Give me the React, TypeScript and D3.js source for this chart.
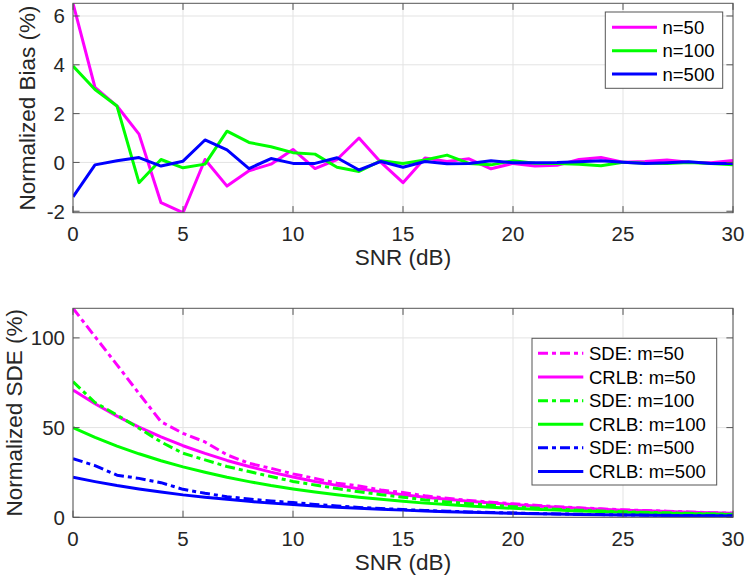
import React from 'react';
import * as d3 from 'd3';

// SNR grid (dB)
const snr = [0, 1, 2, 3, 4, 5, 6, 7, 8, 9, 10, 11, 12, 13, 14, 15, 16, 17, 18, 19, 20, 21, 22, 23, 24, 25, 26, 27, 28, 29, 30];
const xTicks = [0, 5, 10, 15, 20, 25, 30];

// top panel: normalized bias (%)
const bias50 = [6.52, 3.07, 2.31, 1.16, -1.65, -2.06, 0.12, -0.97, -0.34, -0.07, 0.53, -0.25, 0.12, 1.0, 0.0, -0.83, 0.18, 0.04, 0.15, -0.26, -0.04, -0.15, -0.12, 0.12, 0.2, 0.01, 0.04, 0.1, 0.01, -0.01, 0.08];
const bias100 = [3.95, 2.99, 2.31, -0.83, 0.12, -0.22, -0.07, 1.28, 0.82, 0.64, 0.4, 0.34, -0.2, -0.37, 0.07, -0.04, 0.1, 0.3, -0.04, -0.1, 0.07, -0.03, -0.04, -0.07, -0.14, 0.01, -0.03, -0.04, 0, -0.04, -0.1];
const bias500 = [-1.41, -0.1, 0.07, 0.2, -0.15, 0.05, 0.92, 0.51, -0.25, 0.16, -0.04, -0.04, 0.19, -0.31, 0.04, -0.2, 0.04, -0.05, -0.04, 0.07, -0.01, -0.01, 0, 0.03, 0.07, 0.01, -0.04, -0.01, 0.03, -0.04, -0.04];
const biasTicks = [-2, 0, 2, 4, 6];

// bottom panel: normalized SDE (%) and CRLB
const sde50 = [116.5, 100.7, 85, 69, 53.3, 46.8, 42, 34.8, 30.1, 27.3, 24.2, 21.7, 19, 17.5, 15.2, 13.8, 12.0, 10.6, 9.4, 8.4, 7.5, 6.7, 5.9, 5.3, 4.7, 4.2, 3.8, 3.4, 3.0, 2.6, 2.3];
const crlb50 = [71, 63.3, 56.4, 50.3, 44.8, 39.9, 35.6, 31.7, 28.3, 25.2, 22.5, 20.0, 17.8, 15.9, 14.2, 12.6, 11.2, 10.0, 8.9, 8.0, 7.1, 6.3, 5.6, 5.0, 4.5, 4.0, 3.6, 3.2, 2.8, 2.5, 2.2];
const sde100 = [75.6, 64, 57, 49.6, 42, 35.7, 32, 28.3, 25.5, 22.7, 20, 18, 16, 14.2, 12.6, 11.2, 9.7, 8.6, 7.6, 6.7, 5.9, 5.2, 4.5, 4.0, 3.5, 3.1, 2.8, 2.5, 2.2, 1.9, 1.7];
const crlb100 = [50, 44.6, 39.7, 35.4, 31.5, 28.1, 25.1, 22.3, 19.9, 17.7, 15.8, 14.1, 12.6, 11.2, 10.0, 8.9, 7.9, 7.1, 6.3, 5.6, 5.0, 4.5, 4.0, 3.5, 3.2, 2.8, 2.5, 2.2, 2.0, 1.8, 1.6];
const sde500 = [32.7, 28.8, 23.5, 21.7, 19.3, 15.6, 13.4, 11.5, 10.2, 9.1, 8.2, 7.2, 6.3, 5.5, 4.9, 4.3, 3.8, 3.4, 3.0, 2.7, 2.4, 2.1, 1.9, 1.7, 1.5, 1.3, 1.2, 1.1, 1.0, 0.9, 0.8];
const crlb500 = [22.3, 19.9, 17.7, 15.8, 14.1, 12.5, 11.2, 10.0, 8.9, 7.9, 7.1, 6.3, 5.6, 5.0, 4.5, 4.0, 3.5, 3.1, 2.8, 2.5, 2.2, 2.0, 1.8, 1.6, 1.4, 1.3, 1.1, 1.0, 0.9, 0.8, 0.7];
const sdeTicks = [0, 50, 100];

const MAG = '#ff00ff';
const GRN = '#00ff00';
const BLU = '#0000ff';
const DASHDOT = '10,4,4,4';

const topSeries = [
    { label: 'n=50', values: bias50, color: MAG, dash: null },
    { label: 'n=100', values: bias100, color: GRN, dash: null },
    { label: 'n=500', values: bias500, color: BLU, dash: null },
];

const bottomSeries = [
    { label: 'SDE: m=50', values: sde50, color: MAG, dash: DASHDOT },
    { label: 'CRLB: m=50', values: crlb50, color: MAG, dash: null },
    { label: 'SDE: m=100', values: sde100, color: GRN, dash: DASHDOT },
    { label: 'CRLB: m=100', values: crlb100, color: GRN, dash: null },
    { label: 'SDE: m=500', values: sde500, color: BLU, dash: DASHDOT },
    { label: 'CRLB: m=500', values: crlb500, color: BLU, dash: null },
];

const FONT = '"Liberation Sans", Arial, Helvetica, sans-serif';
const W = 747;
const H = 580;
const left = 73;
const right = 733;
const axisColor = '#555555';
const textColor = '#262626';

interface Series {
    label: string;
    values: number[];
    color: string;
    dash: string | null;
}

interface PanelProps {
    id: string;
    top: number;
    bottom: number;
    domain: [number, number];
    yTicks: number[];
    yLabel: string;
    yLabelX: number;
    series: Series[];
    legend: { x0: number; x1: number; y0: number; y1: number; rowY: number[]; lineX0: number; lineX1: number; textX: number };
}

const Panel: React.FC<PanelProps> = ({ id, top, bottom, domain, yTicks, yLabel, yLabelX, series, legend }) => {
    const x = d3.scaleLinear().domain([0, 30]).range([left, right]);
    const y = d3.scaleLinear().domain(domain).range([bottom, top]);
    const line = d3.line<number>()
        .x((_, i) => x(snr[i]))
        .y(d => y(d));
    const tickLen = 6.6;

    return (
        <g>
            <defs>
                <clipPath id={id}>
                    <rect x={left} y={top} width={right - left} height={bottom - top} />
                </clipPath>
            </defs>
            <rect x={left} y={top} width={right - left} height={bottom - top} fill="#fff" />
            {/* grid */}
            {xTicks.map(t => (
                <line key={'gx' + t} x1={x(t)} x2={x(t)} y1={top} y2={bottom} stroke="#e3e3e3" strokeWidth={1} />
            ))}
            {yTicks.map(t => (
                <line key={'gy' + t} x1={left} x2={right} y1={y(t)} y2={y(t)} stroke="#e3e3e3" strokeWidth={1} />
            ))}
            {/* data */}
            <g clipPath={`url(#${id})`}>
                {series.map(s => (
                    <path
                        key={s.label}
                        d={line(s.values) || ''}
                        fill="none"
                        stroke={s.color}
                        strokeWidth={3}
                        strokeLinejoin="round"
                        strokeDasharray={s.dash || undefined}
                    />
                ))}
            </g>
            {/* box + ticks */}
            <rect x={left} y={top} width={right - left} height={bottom - top} fill="none" stroke={axisColor} strokeWidth={1} />
            {xTicks.map(t => (
                <g key={'tx' + t}>
                    <line x1={x(t)} x2={x(t)} y1={bottom} y2={bottom - tickLen} stroke={axisColor} />
                    <line x1={x(t)} x2={x(t)} y1={top} y2={top + tickLen} stroke={axisColor} />
                    <text x={x(t)} y={bottom + 28.7} textAnchor="middle" fontSize={20.5} fill={textColor} fontFamily={FONT}>
                        {t}
                    </text>
                </g>
            ))}
            {yTicks.map(t => (
                <g key={'ty' + t}>
                    <line x1={left} x2={left + tickLen} y1={y(t)} y2={y(t)} stroke={axisColor} />
                    <line x1={right} x2={right - tickLen} y1={y(t)} y2={y(t)} stroke={axisColor} />
                    <text x={65} y={y(t)} dy="0.36em" textAnchor="end" fontSize={20.5} fill={textColor} fontFamily={FONT}>
                        {t}
                    </text>
                </g>
            ))}
            {/* axis labels */}
            <text x={(left + right) / 2} y={bottom + 52.7} textAnchor="middle" fontSize={22.5} fill={textColor} fontFamily={FONT}>
                SNR (dB)
            </text>
            <text
                transform={`translate(${yLabelX}, ${(top + bottom) / 2}) rotate(-90)`}
                textAnchor="middle"
                fontSize={22.5}
                fill={textColor}
                fontFamily={FONT}
            >
                {yLabel}
            </text>
            {/* legend */}
            <rect x={legend.x0} y={legend.y0} width={legend.x1 - legend.x0} height={legend.y1 - legend.y0} fill="#fff" stroke={axisColor} strokeWidth={1} />
            {series.map((s, i) => (
                <g key={'lg' + s.label}>
                    <line
                        x1={legend.lineX0}
                        x2={legend.lineX1}
                        y1={legend.rowY[i]}
                        y2={legend.rowY[i]}
                        stroke={s.color}
                        strokeWidth={3}
                        strokeDasharray={s.dash || undefined}
                    />
                    <text x={legend.textX} y={legend.rowY[i]} dy="0.36em" fontSize={18.5} fill="#000" fontFamily={FONT}>
                        {s.label}
                    </text>
                </g>
            ))}
        </g>
    );
};

export default function App() {
    const allBias = [...bias50, ...bias100, ...bias500];
    const biasDomain = d3.extent(allBias) as [number, number];
    const sdeMax = d3.max([...sde50, ...crlb50, ...sde100, ...crlb100, ...sde500, ...crlb500]) as number;

    return (
        <div style={{ position: 'absolute', left: 0, top: 0, width: W, height: H, background: '#fff' }}>
            <svg width={W} height={H} style={{ display: 'block' }}>
                <rect width={W} height={H} fill="#fff" />
                <Panel
                    id="clip-top"
                    top={3.3}
                    bottom={212.7}
                    domain={biasDomain}
                    yTicks={biasTicks}
                    yLabel="Normalized Bias (%)"
                    yLabelX={34.5}
                    series={topSeries}
                    legend={{
                        x0: 605.3, x1: 722.7, y0: 12, y1: 88.3,
                        rowY: [27.3, 50.7, 74],
                        lineX0: 612, lineX1: 657, textX: 662.5,
                    }}
                />
                <Panel
                    id="clip-bottom"
                    top={308.3}
                    bottom={517.3}
                    domain={[0, sdeMax]}
                    yTicks={sdeTicks}
                    yLabel="Normalized SDE (%)"
                    yLabelX={21.5}
                    series={bottomSeries}
                    legend={{
                        x0: 532, x1: 716.7, y0: 338.3, y1: 485,
                        rowY: [353.3, 377.1, 400.7, 424.3, 447.8, 471.6],
                        lineX0: 538, lineX1: 583.3, textX: 589,
                    }}
                />
            </svg>
        </div>
    );
}
